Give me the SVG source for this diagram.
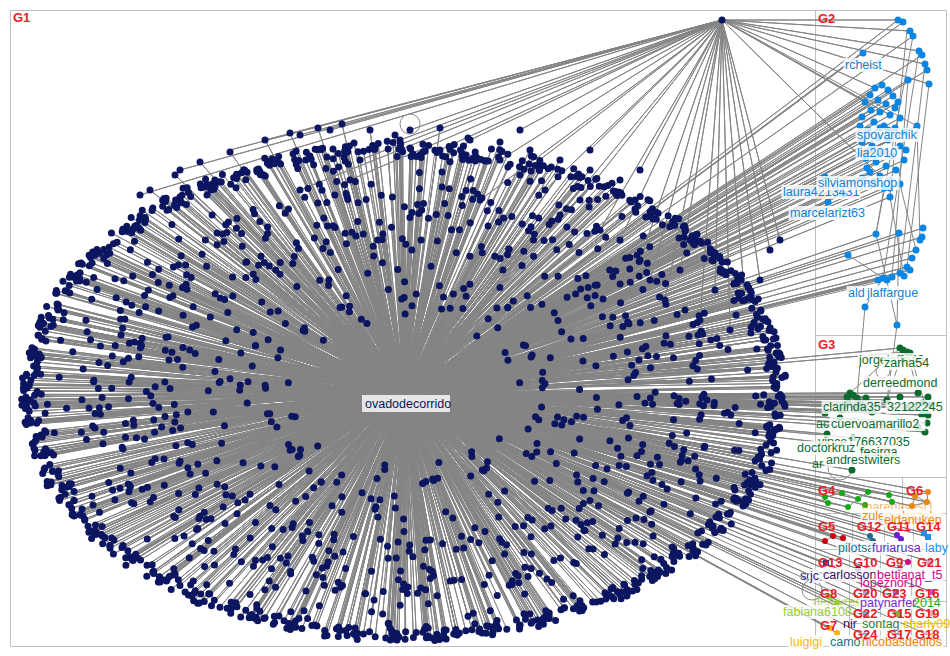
<svg xmlns="http://www.w3.org/2000/svg" width="950" height="656" viewBox="0 0 950 656">
<style>
.box{fill:none;stroke:#c0c0c0;stroke-width:1}
.e{fill:none;stroke:#858585;stroke-width:1;stroke-linejoin:round}
.nd{fill:none;stroke-width:7;stroke-linecap:round}
.ns{stroke-width:6}
.k1{stroke:#0b1560}.k2{stroke:#0a86e2}.k3{stroke:#0b6b2e}.k4{stroke:#15a815}.k6{stroke:#e8860c}.k5{stroke:#c8000f}.k12{stroke:#1b6e8b}.k11{stroke:#6c1bd0}.k14{stroke:#1e8ff0}.k9{stroke:#cc0a8a}.k10{stroke:#4a0f6e}.k8{stroke:#99cc33}.k7{stroke:#f5b800}
.gl{font-family:"Liberation Sans",Arial,sans-serif;font-weight:bold;font-size:13px;fill:#ee1c24}
.lb{font-family:"Liberation Sans",Arial,sans-serif;font-size:12.5px}
.bg{fill:#fff;fill-opacity:.8}
.loop{fill:none;stroke:#8a8a8a;stroke-width:1}
.t1{fill:#0b1560}.t2{fill:#0a83dc}.t3{fill:#0b6b2e}.t6{fill:#e8860c}.t12{fill:#1b6e8b}.t11{fill:#6c1bd0}.t14{fill:#1e8ff0}.t9{fill:#cc0a8a}.t13{fill:#1a237e}.t10{fill:#3d0c5e}.t8{fill:#99cc33}.t4{fill:#22aa22}.t7{fill:#f5b800}.tg{fill:#2e7d32}.tp{fill:#7a2bd0}
</style>
<defs>
<path id="pe" class="e" vector-effect="non-scaling-stroke" d="M0 0 95 12 0 0 -88 40 0 0 30 -92 0 0 -45 -85 0 0 62 70 0 0 -20 97 0 0 78 -55 0 0 -97 -15 0 0 10 60 0 0 -55 20 0 0 40 -30 0 0 -70 -62 0 0 88 -38 0 0 -35 75 0 0 52 35 0 0 -12 -70 0 0 99 -8 0 0 -80 55 0 0 18 88 0 0 -60 -40 0 0 70 10 0 0 -92 28 0 0 5 -98 0 0 45 85 0 0 -28 -93 0 0 84 48 0 0 -40 40 0 0 25 -55 0 0 -75 -20 0 0 60 -75 0 0 -5 30 0 0 35 10 0 0 -98 5 0 0 75 60 0 0 -50 85 0 0 92 25 0 0 -85 -48 0 0 15 -80 0 0 -25 55 0 0 55 -50 0 0 -65 72 0 0 30 93 0 0 -15 -40 0 0 82 -20 0 0 -90 -35 0 0 48 62 0 0 -30 20 0 0 65 -30 0 0 -58 -78 0 0 8 99 0 0 97 -20 0 0 -78 15 0 0 40 -88 0 0 -42 -60 0 0 22 40 0 0 -8 -60 0 0 72 35 0 0 -68 38 0 0 90 -42 0 0 -95 -28 0 0 -38 91 0 0 58 80 0 0 -22 -85 0 0 12 -35 0 0 -48 -5 0 0 80 -58 0 0 33 70 0 0 -83 50 0 0 68 72 0 0 -10 80 0 0 95 30 0 0 -72 -68 0 0 50 -68 0 0 -30 -75 0 0 20 -95 0 0 -93 15 0 0 42 50 0 0 -55 60 0 0 86 5 0 0 -62 -18 0 0 -18 65 0 0 28 -72 0 0 -88 -42 0 0 62 20 0 0 -4 92 0 0 73 -66 0 0 -45 88 0 0 38 -15 0 0 -78 -55 0 0 90 40 0 0 -35 -52 0 0 12 75 0 0 -96 -8 0 0 52 -84 0 0 -20 -96 0 0 85 52 0 0 -65 10 0 0 32 -40 0 0 -48 -86 0 0 70 -15"/>
<path id="pn" class="nd k1" vector-effect="non-scaling-stroke" d="M95 12h0M-88 40h0M30 -92h0M-45 -85h0M62 70h0M-20 97h0M78 -55h0M-97 -15h0M10 60h0M-55 20h0M40 -30h0M-70 -62h0M88 -38h0M-35 75h0M52 35h0M-12 -70h0M99 -8h0M-80 55h0M18 88h0M-60 -40h0M70 10h0M-92 28h0M5 -98h0M45 85h0M-28 -93h0M84 48h0M-40 40h0M25 -55h0M-75 -20h0M60 -75h0M-5 30h0M35 10h0M-98 5h0M75 60h0M-50 85h0M92 25h0M-85 -48h0M15 -80h0M-25 55h0M55 -50h0M-65 72h0M30 93h0M-15 -40h0M82 -20h0M-90 -35h0M48 62h0M-30 20h0M65 -30h0M-58 -78h0M8 99h0M97 -20h0M-78 15h0M40 -88h0M-42 -60h0M22 40h0M-8 -60h0M72 35h0M-68 38h0M90 -42h0M-95 -28h0M-38 91h0M58 80h0M-22 -85h0M12 -35h0M-48 -5h0M80 -58h0M33 70h0M-83 50h0M68 72h0M-10 80h0M95 30h0M-72 -68h0M50 -68h0M-30 -75h0M20 -95h0M-93 15h0M42 50h0M-55 60h0M86 5h0M-62 -18h0M-18 65h0M28 -72h0M-88 -42h0M62 20h0M-4 92h0M73 -66h0M-45 88h0M38 -15h0M-78 -55h0M90 40h0M-35 -52h0M12 75h0M-96 -8h0M52 -84h0M-20 -96h0M85 52h0M-65 10h0M32 -40h0M-48 -86h0M70 -15h0"/>
</defs>

<g id="boxes">
<path class="box" d="M10.5 10.5H946.5V646.5H10.5ZM815.5 10.5V646.5M815.5 335.5H946.5M815.5 477.5H946.5M902.5 477.5V513.5M815.5 513.5H946.5M852.5 513.5V549.5M884.5 513.5V549.5M913.5 513.5V549.5M815.5 549.5H946.5M849.5 549.5V646.5M880.5 549.5V646.5M911.5 549.5V646.5M815.5 580.5H946.5M815.5 601.5H946.5M849.5 623.5H946.5"/>
</g>

<g id="connectors">
<use href="#pe" transform="translate(404 395) scale(3.85 2.48)"/>
<use href="#pe" transform="translate(404 395) scale(3.85 2.48) rotate(38)"/>
<use href="#pe" transform="translate(404 395) scale(3.85 2.48) rotate(83) scale(-1 1)"/>
<use href="#pe" transform="translate(404 395) scale(3.85 2.48) rotate(127)"/>
<use href="#pe" transform="translate(404 395) scale(3.85 2.48) rotate(171) scale(-1 1)"/>
<use href="#pe" transform="translate(404 395) scale(3.85 2.48) rotate(209)"/>
<use href="#pe" transform="translate(404 395) scale(3.85 2.48) rotate(252) scale(-1 1)"/>
<use href="#pe" transform="translate(404 395) scale(3.85 2.48) rotate(296)"/>
<use href="#pe" transform="translate(404 395) scale(3.85 2.48) rotate(334) scale(-1 1)"/>
<use href="#pe" transform="translate(404 390) scale(3.82 2.5) rotate(19) scale(-1 1)"/>
<use href="#pe" transform="translate(404 390) scale(3.82 2.5) rotate(60)"/>
<use href="#pe" transform="translate(404 390) scale(3.82 2.5) rotate(105) scale(-1 1)"/>
<use href="#pe" transform="translate(404 390) scale(3.82 2.5) rotate(149)"/>
<use href="#pe" transform="translate(404 390) scale(3.82 2.5) rotate(190) scale(-1 1)"/>
<use href="#pe" transform="translate(404 390) scale(3.82 2.5) rotate(231)"/>
<use href="#pe" transform="translate(404 390) scale(3.82 2.5) rotate(274) scale(-1 1)"/>
<use href="#pe" transform="translate(404 390) scale(3.82 2.5) rotate(315)"/>
<use href="#pe" transform="translate(404 390) scale(3.82 2.5) rotate(352) scale(-1 1)"/>
<path class="e" d="M404 395 265 140 404 395 290 133 404 395 318 128 404 395 342 124 404 395 370 130 404 395 395 135 404 395 440 128 404 395 468 138 404 395 500 142 404 395 530 150 404 395 230 152 404 395 200 162 404 395 175 175 404 395 560 160 404 395 590 170 404 395 150 190 404 395 620 180"/>
<path class="e" d="M722 20 140 195 722 20 180 170 722 20 230 150 722 20 265 140 722 20 300 135 722 20 330 130 722 20 360 160 722 20 400 140 722 20 410 130 722 20 440 150 722 20 470 140 722 20 500 160 722 20 520 175 722 20 545 190 722 20 560 215 722 20 580 200 722 20 600 230 722 20 620 240 722 20 640 260 722 20 650 280 722 20 665 300 722 20 680 270 722 20 700 320 722 20 715 290 722 20 730 330 722 20 745 300 722 20 760 280 722 20 770 250 722 20 780 240 722 20 640 170 722 20 590 150 722 20 520 130 722 20 480 200 722 20 350 180 722 20 300 190 722 20 898 20 722 20 910 31 722 20 919 51 722 20 925 64 722 20 929 84 722 20 875 88 722 20 890 115 722 20 865 102 722 20 880 176 722 20 917 126"/>
<path class="e" d="M404 395 898 20 404 395 903 22 404 395 913 36 404 395 922 55 404 395 927 70 404 395 908 80 404 395 863 53 404 395 917 126 404 395 875 88 404 395 882 85 404 395 888 90 404 395 870 95 404 395 893 96 404 395 865 102 404 395 878 100 404 395 886 104 404 395 898 102 404 395 871 110 404 395 880 112 404 395 890 115 404 395 862 117 404 395 900 118 404 395 874 122 404 395 884 126 404 395 868 130 404 395 895 128 404 395 905 132 404 395 878 138 404 395 888 140 404 395 862 142 404 395 872 146 404 395 900 146 404 395 882 152 404 395 892 156 404 395 866 158 404 395 876 162 404 395 904 160 404 395 886 166 404 395 896 170 404 395 870 172 404 395 880 176 404 395 862 178 404 395 890 180 404 395 874 184 404 395 900 184 404 395 884 188 404 395 825 177 404 395 828 202 404 395 843 194 404 395 890 197 404 395 876 234 404 395 899 233 404 395 923 228 404 395 922 237 404 395 916 250 404 395 912 258 404 395 907 267 404 395 900 273 404 395 892 277 404 395 883 278 404 395 848 255 404 395 910 270 404 395 887 280"/>
<path class="e" d="M404 395 900 348 404 395 907 352 404 395 850 393 404 395 853 395 404 395 857 398 404 395 847 397 404 395 860 403 404 395 862 407 404 395 855 407 404 395 842 410 404 395 872 412 404 395 887 400 404 395 900 397 404 395 918 393 404 395 928 397 404 395 923 403 404 395 930 405 404 395 915 407 404 395 907 408 404 395 928 415 404 395 922 415 404 395 927 423 404 395 925 432 404 395 918 427 404 395 840 418 404 395 827 434 404 395 853 438 404 395 862 447 404 395 825 413 404 395 852 470 404 395 848 402 404 395 866 398 404 395 845 405"/>
<path class="e" d="M404 395 825 497 404 395 828 503 404 395 842 493 404 395 848 507 404 395 858 499 404 395 868 492 404 395 865 505 404 395 889 495 404 395 892 502 404 395 915 496 404 395 928 492 404 395 927 502 404 395 912 506 404 395 825 541 404 395 833 536 404 395 843 538 404 395 870 536 404 395 873 541 404 395 897 535 404 395 901 539 404 395 924 533 404 395 928 537 404 395 826 563 404 395 858 569 404 395 900 569 404 395 908 562 404 395 930 562 404 395 830 597 404 395 837 603 404 395 866 592 404 395 896 592 404 395 932 592 404 395 866 614 404 395 898 614 404 395 932 613 404 395 830 628 404 395 837 633 404 395 866 636 404 395 898 636 404 395 930 636"/>
<path class="e" d="M907 30L890 197M913 36L876 234M919 51L883 278M925 64L900 273M929 84L907 267M908 80L892 277M917 126L920 240M876 234L897 325M899 233L897 325M883 278L865 307M848 255L883 278M884 188L876 234M900 184L916 250M890 197L904 276M865 307L857 398M897 325L887 400M900 348L850 393M903 350L887 400M907 352L918 393M910 353L928 415M853 438L852 470M825 497L842 493L858 499L868 492L889 495L892 502M858 499L848 507L828 503M915 496L928 492L927 502L912 506L915 496L927 502M825 541L833 536L843 538M897 535L901 539M900 569L908 562"/>
<circle class="loop" cx="410" cy="124" r="10"/>
<circle class="loop" cx="883" cy="371" r="7"/>
<circle class="loop" cx="840" cy="468" r="12"/>
<circle class="loop" cx="812" cy="590" r="10"/>
</g>

<g id="G1">
<use href="#pn" transform="translate(404 395) scale(3.85 2.48)"/>
<use href="#pn" transform="translate(404 395) scale(3.85 2.48) rotate(38)"/>
<use href="#pn" transform="translate(404 395) scale(3.85 2.48) rotate(83) scale(-1 1)"/>
<use href="#pn" transform="translate(404 395) scale(3.85 2.48) rotate(127)"/>
<use href="#pn" transform="translate(404 395) scale(3.85 2.48) rotate(171) scale(-1 1)"/>
<use href="#pn" transform="translate(404 395) scale(3.85 2.48) rotate(209)"/>
<use href="#pn" transform="translate(404 395) scale(3.85 2.48) rotate(252) scale(-1 1)"/>
<use href="#pn" transform="translate(404 395) scale(3.85 2.48) rotate(296)"/>
<use href="#pn" transform="translate(404 395) scale(3.85 2.48) rotate(334) scale(-1 1)"/>
<use href="#pn" transform="translate(404 390) scale(3.82 2.5) rotate(19) scale(-1 1)"/>
<use href="#pn" transform="translate(404 390) scale(3.82 2.5) rotate(60)"/>
<use href="#pn" transform="translate(404 390) scale(3.82 2.5) rotate(105) scale(-1 1)"/>
<use href="#pn" transform="translate(404 390) scale(3.82 2.5) rotate(149)"/>
<use href="#pn" transform="translate(404 390) scale(3.82 2.5) rotate(190) scale(-1 1)"/>
<use href="#pn" transform="translate(404 390) scale(3.82 2.5) rotate(231)"/>
<use href="#pn" transform="translate(404 390) scale(3.82 2.5) rotate(274) scale(-1 1)"/>
<use href="#pn" transform="translate(404 390) scale(3.82 2.5) rotate(315)"/>
<use href="#pn" transform="translate(404 390) scale(3.82 2.5) rotate(352) scale(-1 1)"/>
<path class="nd k1" d="M722 20h0M265 140h0M290 133h0M318 128h0M342 124h0M370 130h0M395 135h0M440 128h0M468 138h0M500 142h0M530 150h0M230 152h0M200 162h0M175 175h0M560 160h0M590 170h0M150 190h0M620 180h0M140 195h0M180 170h0M300 135h0M330 130h0M360 160h0M400 140h0M410 130h0M440 150h0M470 140h0M500 160h0M520 175h0M545 190h0M560 215h0M580 200h0M600 230h0M620 240h0M640 260h0M650 280h0M665 300h0M680 270h0M700 320h0M715 290h0M730 330h0M745 300h0M760 280h0M770 250h0M780 240h0M640 170h0M590 150h0M520 130h0M480 200h0M350 180h0M300 190h0"/>
<g id="n-ovadodecorrido"><rect class="bg" x="362" y="395" width="88" height="17" fill-opacity=".9"/><text class="lb t1" x="365" y="408" font-size="12">ovadodecorrido</text></g>
</g>

<g id="G2">
<path class="nd k2" d="M898 20h0M903 22h0M910 31h0M913 36h0M919 51h0M922 55h0M925 64h0M927 70h0M908 80h0M929 84h0M863 53h0M917 126h0M875 88h0M882 85h0M888 90h0M870 95h0M893 96h0M865 102h0M878 100h0M886 104h0M898 102h0M871 110h0M880 112h0M890 115h0M862 117h0M900 118h0M874 122h0M884 126h0M868 130h0M895 128h0M905 132h0M878 138h0M888 140h0M862 142h0M872 146h0M900 146h0M882 152h0M892 156h0M866 158h0M876 162h0M904 160h0M886 166h0M896 170h0M870 172h0M880 176h0M862 178h0M890 180h0M874 184h0M900 184h0M884 188h0M867 168h0M895 108h0M860 126h0M906 150h0M880 128h0M870 150h0M888 130h0M825 177h0M828 202h0M843 194h0M890 197h0M890 188h0M876 234h0M899 233h0M923 228h0M922 237h0M920 240h0M916 250h0M912 258h0M907 267h0M900 273h0M892 277h0M883 278h0M848 255h0M865 307h0M897 325h0M910 270h0M904 276h0M887 280h0M878 280h0"/>
<g id="n-rcheist"><rect class="bg" x="843.5" y="58" width="40" height="14"/><text class="lb t2" x="845" y="69">rcheist</text></g>
<g id="n-spovarchik"><rect class="bg" x="855.5" y="128" width="63" height="14"/><text class="lb t2" x="857" y="139">spovarchik</text></g>
<g id="n-lia2010"><rect class="bg" x="855.5" y="146" width="43" height="14"/><text class="lb t2" x="857" y="157">lia2010</text></g>
<g id="n-laura"><rect class="bg" x="781.5" y="185" width="79" height="14"/><text class="lb t2" x="783" y="196">laura4213431</text></g>
<g id="n-silviamonshop"><rect class="bg" x="816.5" y="176" width="83" height="14"/><text class="lb t2" x="818" y="187">silviamonshop</text></g>
<g id="n-marcelarizt63"><rect class="bg" x="788.5" y="206" width="78" height="14"/><text class="lb t2" x="790" y="217">marcelarizt63</text></g>
<g id="n-ald"><rect class="bg" x="846.5" y="286" width="19" height="14"/><text class="lb t2" x="848" y="297">ald</text></g>
<g id="n-jlaffargue"><rect class="bg" x="865.5" y="286" width="54" height="14"/><text class="lb t2" x="867" y="297">jlaffargue</text></g>
</g>

<g id="G3">
<path class="nd k3" d="M900 348h0M903 350h0M907 352h0M910 353h0M850 393h0M853 395h0M857 398h0M847 397h0M860 403h0M862 407h0M855 407h0M842 410h0M872 412h0M887 400h0M900 397h0M918 393h0M928 397h0M923 403h0M930 405h0M915 407h0M907 408h0M928 415h0M922 415h0M927 423h0M925 432h0M918 427h0M840 418h0M827 434h0M853 438h0M862 447h0M825 413h0M852 470h0M848 402h0M866 398h0M845 405h0"/>
<g id="n-jorgelaffe46"><rect class="bg" x="857.5" y="353" width="73" height="14"/><text class="lb t3" x="859" y="364">jorgelaffe46</text></g>
<g id="n-zarha54"><rect class="bg" x="882.5" y="356" width="48" height="14"/><text class="lb t3" x="884" y="367">zarha54</text></g>
<g id="n-derreedmond"><rect class="bg" x="861.5" y="376" width="78" height="14"/><text class="lb t3" x="863" y="387">derreedmond</text></g>
<g id="n-clarinda35"><rect class="bg" x="821.5" y="400" width="60" height="14"/><text class="lb t3" x="823" y="411">clarinda35</text></g>
<g id="n-32122245"><rect class="bg" x="885.5" y="400" width="58" height="14"/><text class="lb t3" x="887" y="411">32122245</text></g>
<g id="n-ac"><text class="lb t3" x="816" y="428">ac</text></g>
<g id="n-cuervoamarillo2"><rect class="bg" x="829.5" y="417" width="96" height="14"/><text class="lb t3" x="831" y="428">cuervoamarillo2</text></g>
<g id="n-vince"><rect class="bg" x="816.5" y="435" width="95" height="14"/><text class="lb t3" x="818" y="446">vince176637035</text></g>
<g id="n-doctorkruz"><rect class="bg" x="795.5" y="441" width="61" height="14"/><text class="lb t3" x="797" y="452">doctorkruz</text></g>
<g id="n-fesirga"><rect class="bg" x="858.5" y="445" width="40" height="14"/><text class="lb t3" x="860" y="456">fesirga</text></g>
<g id="n-ar"><text class="lb t3" x="812" y="468">ar</text></g>
<g id="n-andrestwiters"><rect class="bg" x="824.5" y="453" width="79" height="14"/><text class="lb t3" x="826" y="464">andrestwiters</text></g>
</g>

<g id="G4"><path class="nd ns k4" d="M825 497h0M828 503h0M842 493h0M848 507h0M858 499h0M868 492h0M865 505h0M889 495h0M892 502h0"/></g>
<g id="G6"><path class="nd ns k6" d="M915 496h0M928 492h0M927 502h0M912 506h0"/>
<g id="n-marenavest1"><text class="lb t6" x="862" y="511" fill-opacity=".6">marenavest1</text></g>
<g id="n-zulemahazek"><rect class="bg" x="860.5" y="509" width="76" height="14"/><text class="lb t6" x="862" y="520">zulemahazek</text></g>
<g id="n-eldanuken"><rect class="bg" x="882.5" y="513" width="61" height="14"/><text class="lb t6" x="884" y="524">eldanuken</text></g>
</g>
<g id="G5"><path class="nd ns k5" d="M825 541h0M833 536h0M843 538h0"/></g>
<g id="G12"><path class="nd ns k12" d="M870 536h0M873 541h0"/>
<g id="n-pilotsa"><rect class="bg" x="836.5" y="541" width="39" height="14"/><text class="lb t12" x="838" y="552">pilotsa</text></g></g>
<g id="G11"><path class="nd ns k11" d="M897 535h0M901 539h0"/>
<g id="n-furiarusa"><rect class="bg" x="870.5" y="541" width="51" height="14"/><text class="lb t11" x="872" y="552">furiarusa</text></g></g>
<g id="G14"><rect x="921" y="530" width="6" height="6" fill="#1e8ff0"/><rect x="925" y="534" width="6" height="6" fill="#1e8ff0"/>
<g id="n-laby"><rect class="bg" x="923.5" y="541" width="22" height="14"/><text class="lb t14" x="925" y="552">laby</text></g></g>
<g id="G13"><rect x="823" y="560" width="6" height="6" fill="#3a3a90"/>
<g id="n-sc"><text class="lb t13" x="800" y="580">sc</text></g>
<g id="n-jc"><rect class="bg" x="808.5" y="569" width="12" height="14"/><text class="lb t13" x="810" y="580">jc</text></g></g>
<g id="G10"><path class="nd ns k10" d="M858 569h0"/>
<g id="n-carlossont"><rect class="bg" x="821.5" y="568" width="58" height="14"/><text class="lb t10" x="823" y="579">carlossont</text></g></g>
<g id="G9"><path class="nd ns k9" d="M900 569h0M908 562h0"/>
<g id="n-bettianat_t5"><rect class="bg" x="875.5" y="568" width="69" height="14"/><text class="lb t9" x="877" y="579">bettianat_t5</text></g>
<g id="n-lopeznor10"><text class="lb t9" x="860" y="587">lopeznor10</text></g></g>
<g id="G21"><rect x="927" y="559" width="6" height="6" fill="#e9a5d9"/></g>
<g id="G8"><path class="nd ns k8" d="M830 597h0M837 603h0"/>
<g id="n-derpyres"><text class="lb t8" x="813" y="606" fill-opacity=".7">derpyres</text></g>
<g id="n-fabiana6108"><rect class="bg" x="781.5" y="605" width="66" height="14"/><text class="lb t8" x="783" y="616">fabiana6108</text></g></g>
<g id="G20"><rect x="863" y="589" width="6" height="6" fill="#8ab4d8"/></g>
<g id="G23"><rect x="893" y="589" width="6" height="6" fill="#9370db"/>
<g id="n-patynarfer"><rect class="bg" x="858.5" y="596" width="57" height="14"/><text class="lb tp" x="860" y="607">patynarfer</text></g></g>
<g id="G16"><rect x="929" y="589" width="6" height="6" fill="#ba55d3"/>
<g id="n-2014"><text class="lb t4" x="913" y="607">2014</text></g></g>
<g id="G22"><rect x="863" y="611" width="6" height="6" fill="#6fa8dc"/></g>
<g id="G15"><rect x="895" y="611" width="6" height="6" fill="#7cb342"/>
<g id="n-nir"><text class="lb t10" x="843" y="628">nir</text></g>
<g id="n-sontag"><rect class="bg" x="860.5" y="617" width="40" height="14"/><text class="lb tg" x="862" y="628">sontag</text></g></g>
<g id="G19"><rect x="929" y="610" width="6" height="6" fill="#e0b0b0"/>
<g id="n-charly09"><text class="lb t7" x="903" y="628">charly09</text></g></g>
<g id="G7"><path class="nd ns k7" d="M830 628h0M837 633h0"/>
<g id="n-luigigi"><rect class="bg" x="788.5" y="635" width="35" height="14"/><text class="lb t7" x="790" y="646">luigigi</text></g></g>
<g id="G24"><rect x="863" y="633" width="6" height="6" fill="#4fc3f7"/>
<g id="n-camora"><rect class="bg" x="828.5" y="635" width="44" height="14"/><text class="lb t12" x="830" y="646">camora</text></g></g>
<g id="G17"><rect x="895" y="633" width="6" height="6" fill="#90a4ae"/></g>
<g id="G18"><rect x="927" y="633" width="6" height="6" fill="#ffb74d"/>
<g id="n-nicobasdedios"><rect class="bg" x="860.5" y="635" width="83" height="14"/><text class="lb t6" x="862" y="646">nicobasdedios</text></g></g>

<g id="group-labels">
<text class="gl" x="13" y="22">G1</text>
<text class="gl" x="818" y="23">G2</text>
<text class="gl" x="818" y="349">G3</text>
<text class="gl" x="818" y="495">G4</text>
<text class="gl" x="906" y="495">G6</text>
<text class="gl" x="818" y="531">G5</text>
<text class="gl" x="857" y="531">G12</text>
<text class="gl" x="887" y="531">G11</text>
<text class="gl" x="916" y="531">G14</text>
<text class="gl" x="818" y="567">G13</text>
<text class="gl" x="853" y="567">G10</text>
<text class="gl" x="886" y="567">G9</text>
<text class="gl" x="917" y="567">G21</text>
<text class="gl" x="820" y="598">G8</text>
<text class="gl" x="853" y="598">G20</text>
<text class="gl" x="882" y="598">G23</text>
<text class="gl" x="915" y="598">G16</text>
<text class="gl" x="853" y="618">G22</text>
<text class="gl" x="887" y="618">G15</text>
<text class="gl" x="915" y="618">G19</text>
<text class="gl" x="820" y="630">G7</text>
<text class="gl" x="853" y="639">G24</text>
<text class="gl" x="887" y="639">G17</text>
<text class="gl" x="915" y="639">G18</text>
</g>
</svg>
